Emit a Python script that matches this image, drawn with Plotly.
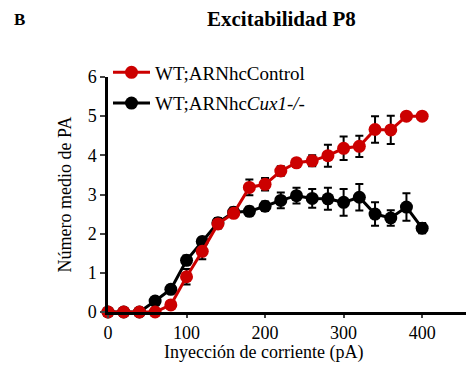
import plotly.graph_objects as go

current_pA = [0, 20, 40, 60, 80, 100, 120, 140, 160, 180, 200, 220, 240, 260, 280, 300, 320, 340, 360, 380, 400]
control_mean = [0, 0, 0, 0, 0.18, 0.9, 1.55, 2.25, 2.52, 3.18, 3.26, 3.6, 3.81, 3.86, 3.99, 4.18, 4.23, 4.66, 4.65, 5.0, 5.0]
control_err = [0, 0, 0, 0, 0.05, 0.2, 0.2, 0.12, 0.1, 0.2, 0.16, 0.12, 0.1, 0.14, 0.28, 0.3, 0.27, 0.34, 0.36, 0, 0]
cux1_mean = [0, 0, 0, 0.28, 0.58, 1.32, 1.8, 2.28, 2.55, 2.57, 2.7, 2.85, 2.97, 2.9, 2.89, 2.8, 2.93, 2.5, 2.4, 2.68, 2.14]
cux1_err = [0, 0, 0, 0.05, 0.1, 0.12, 0.1, 0.12, 0.12, 0.12, 0.12, 0.2, 0.2, 0.24, 0.28, 0.34, 0.34, 0.3, 0.2, 0.35, 0.13]

x_ticks = [0, 100, 200, 300, 400]
y_ticks = [0, 1, 2, 3, 4, 5, 6]

RED = "#CC0000"
FONT = "'Liberation Serif', 'DejaVu Serif', serif"

fig = go.Figure()
fig.add_trace(go.Scatter(
    x=current_pA, y=cux1_mean, name="WT;ARNhc<i>Cux1-/-</i>",
    mode="lines+markers", legendgroup="b", legendrank=2,
    line=dict(color="black", width=3),
    marker=dict(color="black", size=13),
    error_y=dict(type="data", array=cux1_err, color="black", thickness=2, width=4),
    cliponaxis=False,
))
fig.add_trace(go.Scatter(
    x=current_pA, y=control_mean, name="WT;ARNhcControl",
    mode="lines+markers", legendgroup="a", legendrank=1,
    line=dict(color=RED, width=3),
    marker=dict(color=RED, size=13),
    error_y=dict(type="data", array=control_err, color="black", thickness=2, width=4),
    cliponaxis=False,
))

fig.update_layout(
    width=466, height=358,
    margin=dict(l=100, r=0, t=69, b=54),
    paper_bgcolor="white", plot_bgcolor="white",
    font=dict(family=FONT, size=18, color="black"),
    showlegend=True,
    legend=dict(x=0.0, y=1.1, xanchor="left", yanchor="top",
                bgcolor="rgba(0,0,0,0)", font=dict(family=FONT, size=19),
                tracegroupgap=3, itemwidth=37, traceorder="grouped"),
    xaxis=dict(range=[0, 466], tickvals=x_ticks, ticks="outside", ticklen=3, tickwidth=2,
               showline=True, linewidth=2.5, linecolor="black", showgrid=False, zeroline=False,
               tickfont=dict(size=18, family=FONT)),
    yaxis=dict(range=[0, 6], tickvals=y_ticks, ticks="outside", ticklen=5, tickwidth=2,
               showline=True, linewidth=2.5, linecolor="black", showgrid=False, zeroline=False,
               tickfont=dict(size=18, family=FONT),
               title=dict(text="Número medio de PA", font=dict(size=18, family=FONT), standoff=12)),
    annotations=[
        dict(text="<b>Excitabilidad P8</b>", xref="paper", yref="paper", x=(281 - 108) / 366,
             y=1.0 + (77 - 19) / 235, xanchor="center", yanchor="middle", showarrow=False,
             font=dict(size=21, family=FONT)),
        dict(text="<b>B</b>", xref="paper", yref="paper", x=(12 - 108) / 366,
             y=1.0 + (77 - 19) / 235, xanchor="left", yanchor="middle", showarrow=False,
             font=dict(size=17, family=FONT)),
        dict(text="Inyección de corriente (pA)", xref="paper", yref="paper", x=(263 - 108) / 366,
             y=-(352 - 312) / 235, xanchor="center", yanchor="middle", showarrow=False,
             font=dict(size=18, family=FONT)),
    ],
)

fig.write_html("out.html")
